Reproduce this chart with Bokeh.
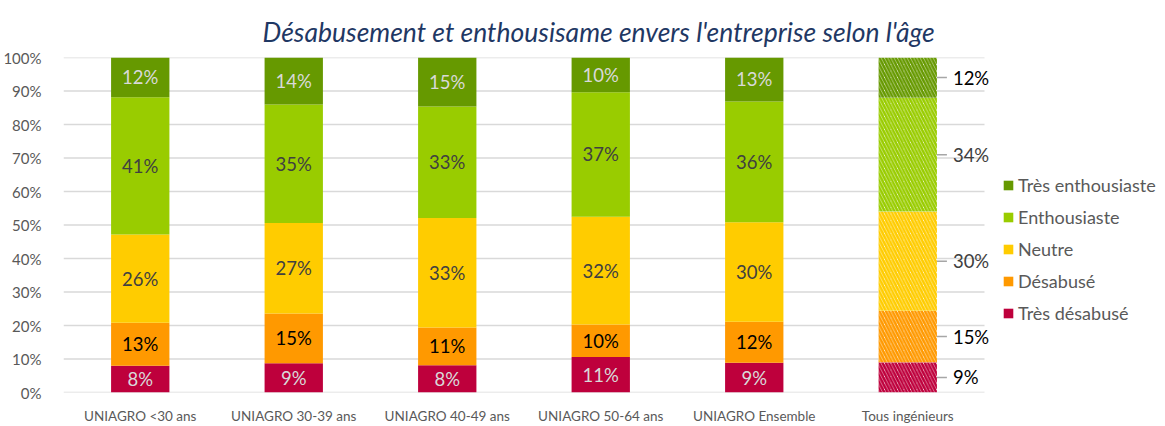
import numpy as np
from bokeh.plotting import figure
from bokeh.models import (ColumnDataSource, FixedTicker, PrintfTickFormatter, Legend,
                          LegendItem, LabelSet, Range1d)
from bokeh.core.properties import value
from bokeh.embed import file_html
from bokeh.resources import INLINE

# ---------------- data ----------------
categories = ["UNIAGRO <30 ans", "UNIAGRO 30-39 ans", "UNIAGRO 40-49 ans",
              "UNIAGRO 50-64 ans", "UNIAGRO Ensemble", "Tous ingénieurs"]
series_names = ["Très désabusé", "Désabusé", "Neutre", "Enthousiaste", "Très enthousiaste"]

tres_desabuse = [8.0, 8.7, 8.1, 10.6, 8.9, 9.0]
desabuse = [12.8, 14.9, 11.3, 9.7, 12.2, 15.4]
neutre = [26.4, 27.0, 32.7, 32.2, 29.7, 29.6]
enthousiaste = [40.9, 35.4, 33.3, 37.1, 36.1, 34.0]
tres_enthousiaste = [11.9, 14.0, 14.6, 10.4, 13.1, 12.0]

y_ticks = [0, 10, 20, 30, 40, 50, 60, 70, 80, 90, 100]
hatched_category = "Tous ingénieurs"

series_values = [tres_desabuse, desabuse, neutre, enthousiaste, tres_enthousiaste]
series_colors = ["#BE003C", "#FF9900", "#FFCC00", "#99CC00", "#669900"]
inside_label_colors = ["#D9D9D9", "#000000", "#404040", "#404040", "#D9D9D9"]
outside_label_colors = ["#000000", "#000000", "#404040", "#404040", "#000000"]

FONT = "Lato"
BAR_W = 0.38

# layout (pixels)
W, H = 1165, 426
LEFT, TOP, BOTTOM = 63, 57, 33
PLOT_W = 921                      # width that holds the six categories
FRAME_W = W - LEFT                # frame extends under the legend area
n = len(categories)
x_end = -0.5 + n * FRAME_W / PLOT_W

p = figure(width=W, height=H, output_backend="svg", toolbar_location=None,
           x_range=Range1d(-0.5, x_end), y_range=Range1d(0, 100),
           min_border_left=LEFT, min_border_right=0, min_border_top=TOP,
           min_border_bottom=BOTTOM)
p.outline_line_color = None
p.background_fill_color = "white"
p.border_fill_color = "white"

# title
p.title.text = "Désabusement et enthousisame envers l'entreprise selon l'âge"
p.title.align = "left"
p.title.offset = 199
p.title.text_font = FONT
p.title.text_font_style = "italic"
p.title.text_font_size = "26.5px"
p.title.text_color = "#1F3864"
p.title.standoff = 20

# axes
p.xaxis.ticker = FixedTicker(ticks=list(range(n)))
p.xaxis.major_label_overrides = {i: c for i, c in enumerate(categories)}
p.xaxis.axis_line_color = None
p.xaxis.major_tick_line_color = None
p.xaxis.minor_tick_line_color = None
p.xaxis.major_label_text_font = FONT
p.xaxis.major_label_text_font_size = "13.5px"
p.xaxis.major_label_text_color = "#595959"
p.xaxis.major_label_standoff = 9

p.yaxis.ticker = FixedTicker(ticks=y_ticks)
p.yaxis.formatter = PrintfTickFormatter(format="%d%%")
p.yaxis.axis_line_color = None
p.yaxis.major_tick_line_color = None
p.yaxis.minor_tick_line_color = None
p.yaxis.major_label_text_font = FONT
p.yaxis.major_label_text_font_size = "15px"
p.yaxis.major_label_text_color = "#595959"
p.yaxis.major_label_standoff = 16

# horizontal gridlines limited to the category area
p.xgrid.grid_line_color = None
p.ygrid.grid_line_color = None
p.segment(x0=[-0.5] * len(y_ticks), x1=[n - 0.5] * len(y_ticks), y0=y_ticks, y1=y_ticks,
          line_color="#D9D9D9", line_width=1.5)

# stacking
vals = np.array(series_values, dtype=float)
tops = np.cumsum(vals, axis=0)
bottoms = tops - vals
xs = np.arange(n)
hatched = np.array([c == hatched_category for c in categories])
solid = ~hatched

legend_items = []
for i, name in enumerate(series_names):
    labels = ["%d%%" % int(round(v)) for v in vals[i]]
    mids = (bottoms[i] + tops[i]) / 2
    src_s = ColumnDataSource(dict(x=xs[solid], bottom=bottoms[i][solid], top=tops[i][solid],
                                  mid=mids[solid], lab=[l for l, s in zip(labels, solid) if s]))
    src_h = ColumnDataSource(dict(x=xs[hatched], bottom=bottoms[i][hatched], top=tops[i][hatched],
                                  mid=mids[hatched], edge=xs[hatched] + BAR_W / 2,
                                  lab=[l for l, h in zip(labels, hatched) if h]))
    r = p.vbar(x="x", bottom="bottom", top="top", width=BAR_W, source=src_s,
               fill_color=series_colors[i], line_color=None)
    p.vbar(x="x", bottom="bottom", top="top", width=BAR_W, source=src_h,
           fill_color="white", line_color=None, hatch_pattern="\\",
           hatch_color=series_colors[i], hatch_weight=2.5, hatch_scale=6.5)
    p.text(x="x", y="mid", text="lab", source=src_s, text_align="center",
           text_baseline="middle", text_font=value(FONT), text_font_size="18.5px",
           text_color=inside_label_colors[i])
    p.ray(x="edge", y="mid", length=10, length_units="screen", angle=0, source=src_h,
          line_color="#A6A6A6", line_width=1.5)
    p.add_layout(LabelSet(x="edge", y="mid", text="lab", source=src_h, x_offset=16,
                          text_align="left", text_baseline="middle",
                          text_font=value(FONT), text_font_size="18.5px",
                          text_color=outside_label_colors[i]))
    legend_items.append(LegendItem(label=name, renderers=[r]))

legend = Legend(items=list(reversed(legend_items)), location=(939, 68))
legend.border_line_color = None
legend.background_fill_alpha = 0
legend.padding = 0
legend.margin = 0
legend.spacing = 10
legend.glyph_width = 12
legend.glyph_height = 12
legend.label_standoff = 4
legend.label_height = 20
legend.label_text_font = FONT
legend.label_text_font_size = "18px"
legend.label_text_color = "#595959"
p.add_layout(legend)

open("out.html", "w").write(file_html(p, INLINE))
